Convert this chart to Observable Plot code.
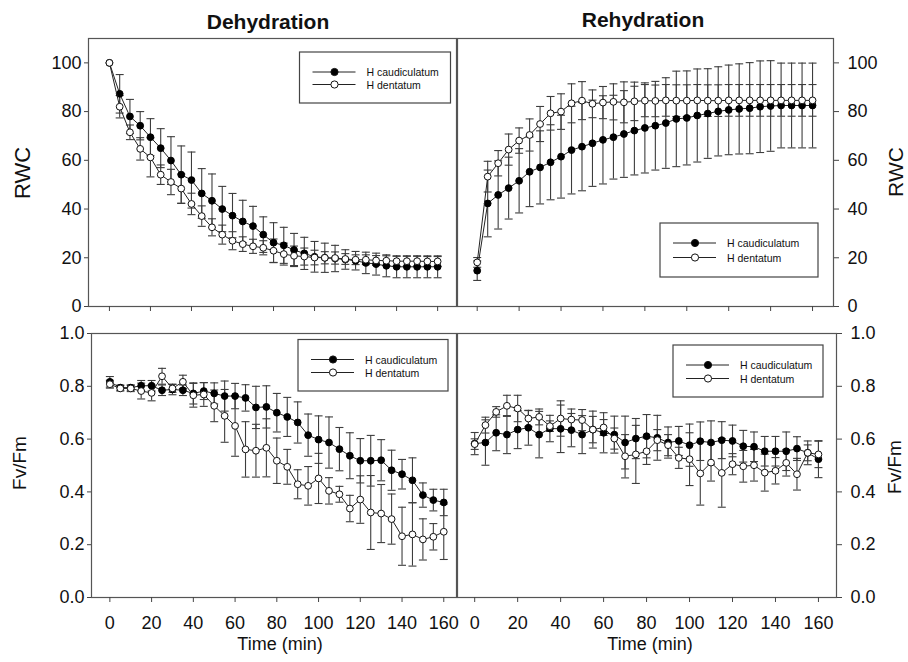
<!DOCTYPE html>
<html>
<head>
<meta charset="utf-8">
<script src="https://cdn.jsdelivr.net/npm/d3@7"></script>
<script src="https://cdn.jsdelivr.net/npm/@observablehq/plot@0.6"></script>
<style>
  html, body { margin: 0; padding: 0; background: #fff; }
  #chart { position: relative; width: 908px; height: 662px; background: #fff; overflow: hidden;
           font-family: "Liberation Sans", Arial, sans-serif; color: #111; }
  #chart > svg { position: absolute; }
  #overlay { left: 0; top: 0; pointer-events: none; }
</style>
</head>
<body>
<div id="chart"></div>
<script>
// ---------- data ----------
const times = [0,5,10,15,20,25,30,35,40,45,50,55,60,65,70,75,80,85,90,95,100,105,110,115,120,125,130,135,140,145,150,155,160];
const xTicks = [0,20,40,60,80,100,120,140,160];
const rwcTicks = [0,20,40,60,80,100];
const fvTicks = [0,0.2,0.4,0.6,0.8,1.0];
const seriesNames = ["H caudiculatum", "H dentatum"];
const panelTitles = ["Dehydration", "Rehydration"];
const xLabel = "Time (min)";
const yLabels = ["RWC", "Fv/Fm"];

// Dehydration – RWC
const dehydRWC_cau = [100,87.3,78,74.2,69.5,65,59.9,54.1,51.9,46.4,43.4,40,37.3,34.9,33,29.5,26.2,25.1,23.2,21.8,20.4,20,19.7,19.3,18.8,17.9,17.4,16.7,16.3,16.3,16.3,16.3,16.3];
const dehydRWC_cau_err = [0,7.9,7,5.8,7.6,8,9.8,11.8,11.5,10.2,11,9.3,9.1,8.7,8.1,7.3,8.2,7.4,6.8,6.6,6.3,6,5.4,4,3.8,4.4,4.5,4.5,4.5,4.5,4.5,4.5,4.5];
const dehydRWC_den = [100,82,71.5,64.7,61.2,54.1,51.1,48.4,42.1,37.1,32.5,29.5,27,25.6,24.7,24.1,22.9,21.5,20.8,20.5,20.1,20,19.9,19.5,19.2,19.2,18.9,18.8,18.6,18.6,18.6,18.5,18.5];
const dehydRWC_den_err = [0,4.6,3,4.6,8,4,5.2,6,4.4,4.2,3.5,3.9,3.7,3,2.9,2.9,4.8,4.5,4,3.5,3,2.5,2.5,2.2,2,2,2,2,2,2,2,2,2];

// Rehydration – RWC
const rehydRWC_cau = [14.7,42.3,45.8,48.6,51.6,55.3,57.1,59.2,61.5,64.2,65.6,67,68.4,69.5,70.8,72.2,73.3,74.2,75.3,77,77.4,78.4,79.2,80.1,80.7,81.1,81.4,82,82.3,82.5,82.5,82.5,82.5];
const rehydRWC_cau_err = [4,13.7,14,12.7,13.2,14.3,15,15.4,17,18,18.1,17.7,18.1,17.2,17.8,18.2,18.5,18.2,18.6,19.6,19.3,19.1,18.4,18.3,18.4,18.5,18.7,18.8,18.6,17.4,17.4,17.4,17.4];
const rehydRWC_den = [18.1,53.3,58.8,64.4,68.1,70.4,74.9,79.3,80,83.4,84.5,83.2,83.7,84,83.8,84.2,84.5,84.4,84.6,84.5,84.5,84.6,84.5,84.5,84.6,84.6,84.6,84.6,84.6,84.6,84.6,84.6,84.6];
const rehydRWC_den_err = [2,6.3,5.2,6.4,5.2,6.6,7.2,6.9,7.3,8,7.8,5.7,6.6,7.4,8.4,7.9,6.6,6.5,6.5,6.5,6.5,6.5,6.5,6.5,6.5,6.5,6.5,6.5,6.5,6.5,6.5,6.5,6.5];

// Dehydration – Fv/Fm
const dehydFv_cau = [0.817,0.795,0.795,0.802,0.802,0.785,0.788,0.785,0.773,0.782,0.773,0.763,0.763,0.756,0.72,0.722,0.70,0.684,0.663,0.615,0.598,0.587,0.562,0.537,0.518,0.518,0.52,0.482,0.467,0.444,0.388,0.369,0.36];
const dehydFv_cau_err = [0.02,0.01,0.01,0.02,0.02,0.02,0.02,0.02,0.04,0.032,0.04,0.057,0.048,0.05,0.08,0.08,0.073,0.074,0.078,0.08,0.09,0.097,0.082,0.087,0.084,0.096,0.078,0.076,0.056,0.085,0.046,0.041,0.05];
const dehydFv_den = [0.808,0.792,0.792,0.782,0.775,0.838,0.792,0.817,0.766,0.769,0.726,0.688,0.65,0.561,0.556,0.567,0.518,0.495,0.429,0.423,0.451,0.404,0.391,0.337,0.371,0.322,0.318,0.297,0.232,0.239,0.22,0.23,0.249];
const dehydFv_den_err = [0.015,0.01,0.012,0.03,0.03,0.03,0.015,0.025,0.045,0.045,0.06,0.1,0.115,0.105,0.1,0.11,0.086,0.066,0.055,0.073,0.095,0.05,0.03,0.05,0.09,0.14,0.11,0.095,0.11,0.12,0.078,0.05,0.105];

// Rehydration – Fv/Fm
const rehydFv_cau = [0.583,0.587,0.624,0.617,0.636,0.643,0.617,0.64,0.639,0.634,0.617,0.636,0.624,0.617,0.587,0.602,0.611,0.605,0.587,0.593,0.577,0.592,0.587,0.596,0.593,0.573,0.571,0.554,0.554,0.554,0.564,0.548,0.524];
const rehydFv_cau_err = [0.042,0.086,0.068,0.072,0.072,0.066,0.088,0.05,0.09,0.063,0.072,0.07,0.076,0.07,0.1,0.076,0.082,0.085,0.059,0.055,0.08,0.073,0.082,0.07,0.06,0.06,0.056,0.056,0.056,0.073,0.045,0.045,0.07];
const rehydFv_den = [0.581,0.653,0.703,0.726,0.716,0.678,0.684,0.649,0.678,0.674,0.672,0.636,0.644,0.602,0.535,0.542,0.554,0.596,0.577,0.529,0.524,0.47,0.511,0.472,0.505,0.497,0.501,0.473,0.48,0.51,0.467,0.548,0.542];
const rehydFv_den_err = [0.02,0.03,0.02,0.04,0.05,0.03,0.03,0.02,0.067,0.04,0.04,0.05,0.03,0.04,0.082,0.11,0.05,0.04,0.04,0.04,0.1,0.12,0.07,0.13,0.04,0.06,0.06,0.07,0.05,0.05,0.06,0.03,0.05];

// ---------- drawing ----------
const FONT = "'Liberation Sans', Arial, Helvetica, sans-serif";
const ERR = "#3d3d3d";
const capSymbol = { draw(ctx, size) { const w = Math.sqrt(size / Math.PI); ctx.moveTo(-w, 0); ctx.lineTo(w, 0); } };

function rows(vals, errs, name) {
  return times.map((t, i) => ({ t, v: vals[i], e: errs[i], name }));
}

function panel(o) {
  const a = rows(o.cau, o.cauErr, seriesNames[0]);
  const b = rows(o.den, o.denErr, seriesNames[1]);
  const marks = [Plot.frame({ stroke: "#555", strokeWidth: 1.2 })];
  for (const d of [a, b]) {
    const de = d.filter(r => r.e > 0);
    marks.push(
      Plot.ruleX(de, { x: "t", y1: r => r.v - r.e, y2: r => r.v + r.e, stroke: ERR, strokeWidth: 1.1 }),
      Plot.dot(de, { x: "t", y: r => r.v - r.e, symbol: capSymbol, r: 4, fill: "none", stroke: ERR, strokeWidth: 1.1 }),
      Plot.dot(de, { x: "t", y: r => r.v + r.e, symbol: capSymbol, r: 4, fill: "none", stroke: ERR, strokeWidth: 1.1 })
    );
  }
  marks.push(
    Plot.line(a, { x: "t", y: "v", stroke: "#222", strokeWidth: 1 }),
    Plot.dot(a, { x: "t", y: "v", r: 3.4, fill: "#000", stroke: "#000", strokeWidth: 1 }),
    Plot.line(b, { x: "t", y: "v", stroke: "#222", strokeWidth: 1 }),
    Plot.dot(b, { x: "t", y: "v", r: 3.4, fill: "#fff", stroke: "#111", strokeWidth: 1 }),
    Plot.axisY({ anchor: o.yAnchor, ticks: o.yTicks, tickFormat: o.yFormat, tickSize: o.yAnchor === "left" ? 4 : 5,
                 tickPadding: o.yAnchor === "left" ? 3 : 9, fontSize: 18, fontFamily: FONT, label: null, stroke: "#444" }),
    Plot.axisX({ anchor: "bottom", ticks: xTicks, tickFormat: o.xLabels ? (d => d) : (() => ""), tickSize: 5,
                 tickPadding: 14, fontSize: 18, fontFamily: FONT, label: null, stroke: "#444" })
  );
  const svg = Plot.plot({
    width: o.width, height: o.height,
    marginLeft: o.ml, marginRight: o.mr, marginTop: o.mt, marginBottom: o.mb,
    x: { domain: o.xDomain },
    y: { domain: o.yDomain },
    style: { fontFamily: FONT, background: "transparent", color: "#111", overflow: "visible" },
    marks
  });
  svg.style.left = o.left + "px";
  svg.style.top = o.top + "px";
  document.getElementById("chart").appendChild(svg);
}

const f1 = d3.format(".1f");
panel({ left: 0, top: 0, width: 460, height: 330, ml: 88, mr: 4, mt: 38, mb: 24,
        xDomain: [-10.2, 169.2], yDomain: [0, 110], yTicks: rwcTicks, yFormat: d => d, yAnchor: "left", xLabels: false,
        cau: dehydRWC_cau, cauErr: dehydRWC_cau_err, den: dehydRWC_den, denErr: dehydRWC_den_err });
panel({ left: 440, top: 0, width: 468, height: 330, ml: 17, mr: 75, mt: 38, mb: 24,
        xDomain: [-9.4, 170], yDomain: [0, 110], yTicks: rwcTicks, yFormat: d => d, yAnchor: "right", xLabels: false,
        cau: rehydRWC_cau, cauErr: rehydRWC_cau_err, den: rehydRWC_den, denErr: rehydRWC_den_err });
panel({ left: 0, top: 310, width: 460, height: 352, ml: 91, mr: 4, mt: 23, mb: 65,
        xDomain: [-8.8, 166.1], yDomain: [0, 1], yTicks: fvTicks, yFormat: f1, yAnchor: "left", xLabels: true,
        cau: dehydFv_cau, cauErr: dehydFv_cau_err, den: dehydFv_den, denErr: dehydFv_den_err });
panel({ left: 440, top: 310, width: 468, height: 352, ml: 17, mr: 72, mt: 23, mb: 65,
        xDomain: [-8, 168.4], yDomain: [0, 1], yTicks: fvTicks, yFormat: f1, yAnchor: "right", xLabels: true,
        cau: rehydFv_cau, cauErr: rehydFv_cau_err, den: rehydFv_den, denErr: rehydFv_den_err });

// ---------- titles, axis titles, legends ----------
const ov = d3.select("#chart").append("svg").attr("id", "overlay")
  .attr("width", 908).attr("height", 662).style("font-family", FONT);

function label(text, x, y, size, opts = {}) {
  ov.append("text").attr("x", x).attr("y", y)
    .attr("text-anchor", "middle").attr("dominant-baseline", "central")
    .attr("transform", opts.rotate ? `rotate(-90 ${x} ${y})` : null)
    .attr("font-size", size).attr("font-weight", opts.bold ? "bold" : "normal")
    .attr("fill", "#111").text(text);
}
label(panelTitles[0], 268, 21, 21, { bold: true });
label(panelTitles[1], 643, 19, 21, { bold: true });
label(yLabels[0], 22, 173, 22, { rotate: true });
label(yLabels[0], 895, 172, 21, { rotate: true });
label(yLabels[1], 19, 463, 19, { rotate: true });
label(yLabels[1], 894, 467, 19, { rotate: true });
label(xLabel, 280, 644, 18);
label(xLabel, 650, 644, 18);

function legend(x, y, w, h, r1, r2) {
  const g = ov.append("g").attr("transform", `translate(${x},${y})`);
  g.append("rect").attr("width", w).attr("height", h).attr("fill", "#fff").attr("stroke", "#444").attr("stroke-width", 1.2);
  [[r1, "#000"], [r2, "#fff"]].forEach(([ry, fill], i) => {
    g.append("line").attr("x1", 13).attr("x2", 56).attr("y1", ry).attr("y2", ry).attr("stroke", "#222");
    g.append("circle").attr("cx", 35).attr("cy", ry).attr("r", 3.6).attr("fill", fill).attr("stroke", "#111");
    g.append("text").attr("x", 67).attr("y", ry).attr("dominant-baseline", "central")
      .attr("font-size", 10.5).attr("fill", "#111").text(seriesNames[i]);
  });
}
legend(299.5, 52, 151, 51, 20, 32.5);
legend(660, 223, 158, 54, 20, 34.5);
legend(298, 339.5, 150, 51.5, 20, 33);
legend(673, 345, 150, 52, 20, 33.5);
</script>
</body>
</html>
